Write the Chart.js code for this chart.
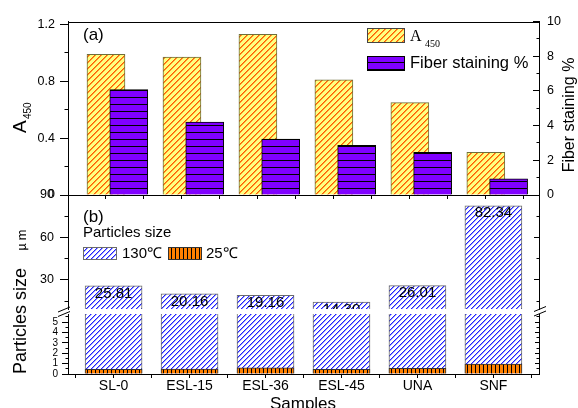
<!DOCTYPE html>
<html>
<head>
<meta charset="utf-8">
<script src="https://cdn.jsdelivr.net/npm/chart.js@4.4.0/dist/chart.umd.min.js"></script>
<style>
    html, body { margin: 0; padding: 0; background: #fff; overflow: hidden; }
    #wrap { position: relative; width: 578px; height: 408px; }
    #wrap canvas { position: absolute; left: 0; top: 0; }
</style>
</head>
<body>
<div id="wrap">
    <canvas id="chartTop" width="578" height="408"></canvas>
    <canvas id="chartUpper" width="578" height="408"></canvas>
    <canvas id="chartLower" width="578" height="408"></canvas>
</div>
<script>
// data
const samples = ['SL-0', 'ESL-15', 'ESL-36', 'ESL-45', 'UNA', 'SNF'];
const a450 = [0.99, 0.97, 1.13, 0.81, 0.65, 0.30];
const fiberStaining = [6.07, 4.21, 3.22, 2.87, 2.46, 0.93];
const size130 = [25.81, 20.16, 19.16, 14.30, 26.01, 82.34];
const size25 = [0.45, 0.48, 0.60, 0.45, 0.55, 0.96];

// tick values
const a450Ticks = [0, 0.4, 0.8, 1.2];
const a450Minor = [0.2, 0.6, 1.0];
const fiberTicks = [0, 2, 4, 6, 8, 10];
const fiberMinor = [1, 3, 5, 7, 9];
const upperTicks = [30, 60, 90];
const upperMinor = [15, 45, 75];
const lowerTicks = [0, 1, 2, 3, 4, 5];
const lowerMinor = [0.5, 1.5, 2.5, 3.5, 4.5, 5.5];
const topXTicks = [-0.1, 0.4, 0.9, 1.4, 1.9, 2.4, 2.9, 3.4, 3.9, 4.4, 4.9, 5.4];
const bottomXTicks = [-0.5, 0, 0.5, 1, 1.5, 2, 2.5, 3, 3.5, 4, 4.5, 5, 5.5];

const FONT = 'Arial, "Liberation Sans", sans-serif';
Chart.defaults.font.family = FONT;
Chart.defaults.color = '#000';
Chart.defaults.animation = false;

const ctxTop = document.getElementById('chartTop').getContext('2d');
const ctxUpper = document.getElementById('chartUpper').getContext('2d');
const ctxLower = document.getElementById('chartLower').getContext('2d');

function makePattern(ctx, w, h, bg, draw) {
    const c = document.createElement('canvas');
    c.width = w; c.height = h;
    const g = c.getContext('2d');
    g.fillStyle = bg;
    g.fillRect(0, 0, w, h);
    draw(g, w, h);
    return ctx.createPattern(c, 'repeat');
}

// pixel-stepped "/" lines, crisp so the colour survives
function diag(color, soft) {
    return (g, s) => {
        for (let k = 0; k < s; k++) {
            g.fillStyle = color;
            g.fillRect(s - 1 - k, k, 1, 1);
            if (soft) {
                g.fillStyle = soft;
                g.fillRect((s - k) % s, k, 1, 1);
            }
        }
    };
}

function patterns(ctx) {
    return {
        a450: makePattern(ctx, 6, 6, '#FFFF80', diag('#FF5A00', '#FF9B2A')),
        fiber: makePattern(ctx, 7, 7, '#8000FF', (g) => { g.fillStyle = '#000'; g.fillRect(0, 6, 7, 1); }),
        hot: makePattern(ctx, 5, 5, '#FFFFFF', diag('#2020FF', '#9a9aff')),
        cold: makePattern(ctx, 4, 4, '#FF8000', (g) => { g.fillStyle = '#000'; g.fillRect(3, 0, 1, 4); })
    };
}
const patTop = patterns(ctxTop);
const patUpper = patterns(ctxUpper);
const patLower = patterns(ctxLower);

const setTicks = values => s => { s.ticks = values.map(v => ({ value: v })); };
const border = { display: true, color: '#000', width: 1 };

function leftAxis(min, max, major, size, len, pad) {
    return {
        type: 'linear', position: 'left', min, max,
        afterBuildTicks: setTicks(major),
        afterFit: s => { s.width = 68; },
        ticks: { autoSkip: false, font: { size }, padding: pad, color: '#000', callback: v => String(v) },
        grid: { drawOnChartArea: false, tickLength: len, color: '#000' },
        border
    };
}

function rightAxis(min, max, major, showLabels, len) {
    return {
        type: 'linear', position: 'right', min, max,
        afterBuildTicks: setTicks(major),
        afterFit: s => { s.width = 39; },
        ticks: { autoSkip: false, display: showLabels, font: { size: 12.5 }, padding: 14, color: '#000', callback: v => String(v) },
        grid: { drawOnChartArea: false, tickLength: -len, color: '#000' },
        border
    };
}

function minorTicks(chart, id, values, len) {
    const s = chart.scales[id];
    const ctx = chart.ctx;
    const x0 = s.position === 'left' ? Math.round(s.right) + 0.5 : Math.round(s.left) + 0.5;
    ctx.save();
    ctx.strokeStyle = '#000';
    ctx.lineWidth = 1;
    ctx.beginPath();
    values.forEach(v => {
        const y = Math.round(s.getPixelForValue(v) - 0.5) + 0.5;
        ctx.moveTo(x0, y);
        ctx.lineTo(x0 - len, y);
    });
    ctx.stroke();
    ctx.restore();
}

function label(ctx, str, x, y, font, align, rot) {
    ctx.save();
    ctx.translate(x, y);
    if (rot) ctx.rotate(rot);
    ctx.font = font;
    ctx.fillStyle = '#000';
    ctx.textAlign = align || 'left';
    ctx.textBaseline = 'middle';
    ctx.fillText(str, 0, 0);
    ctx.restore();
}

function legendBox(ctx, x, y, w, h, fill, stroke) {
    ctx.save();
    ctx.fillStyle = fill;
    ctx.fillRect(x, y, w, h);
    ctx.strokeStyle = stroke;
    ctx.lineWidth = 1;
    ctx.strokeRect(x + 0.5, y + 0.5, w, h);
    ctx.restore();
}

const baseOptions = {
    responsive: false,
    devicePixelRatio: 1,
    animation: false,
    plugins: { legend: { display: false }, tooltip: { enabled: false } }
};

// ---------- panel (a) ----------
new Chart(ctxTop, {
    type: 'bar',
    data: {
        datasets: [
            {
                label: 'A450',
                data: samples.map((s, i) => ({ x: i - 0.1, y: a450[i] })),
                yAxisID: 'y',
                backgroundColor: patTop.a450,
                borderColor: '#6e6e3c',
                borderWidth: 1,
                barThickness: 38,
                grouped: false,
                clip: 0,
                order: 2
            },
            {
                label: 'Fiber staining %',
                data: samples.map((s, i) => ({ x: i + 0.2, y: fiberStaining[i] })),
                yAxisID: 'y1',
                backgroundColor: patTop.fiber,
                borderColor: '#000',
                borderWidth: 1,
                barThickness: 38,
                grouped: false,
                clip: 0,
                order: 1
            }
        ]
    },
    options: {
        ...baseOptions,
        layout: { padding: { top: 17, bottom: 207, left: 0, right: 0 } },
        scales: {
            x: {
                type: 'linear', min: -0.6, max: 5.6, offset: false,
                afterBuildTicks: setTicks(topXTicks),
                afterFit: s => { s.height = 6; },
                ticks: { display: false },
                grid: { drawOnChartArea: false, offset: false, tickLength: 4, color: '#000' },
                border
            },
            y: leftAxis(0, 1.22, a450Ticks, 12.5, 8, 5),
            y1: rightAxis(0, 10, fiberTicks, true, 6)
        }
    },
    plugins: [{
        id: 'panelA',
        afterDraw(chart) {
            const { ctx, chartArea: a } = chart;
            ctx.save();
            ctx.strokeStyle = '#000';
            ctx.lineWidth = 1;
            ctx.beginPath();
            ctx.moveTo(Math.round(a.left), Math.round(a.top) + 0.5);
            ctx.lineTo(Math.round(a.right) + 1, Math.round(a.top) + 0.5);
            ctx.stroke();
            ctx.restore();
            minorTicks(chart, 'y', a450Minor, 4);
            minorTicks(chart, 'y1', fiberMinor, 3);

            label(ctx, '(a)', 83, 35, '17px ' + FONT);

            // left title A450
            ctx.save();
            ctx.translate(26, 133);
            ctx.rotate(-Math.PI / 2);
            ctx.fillStyle = '#000';
            ctx.textBaseline = 'alphabetic';
            ctx.font = '19px ' + FONT;
            ctx.fillText('A', 0, 0);
            ctx.font = '10px ' + FONT;
            ctx.fillText('450', 14, 5);
            ctx.restore();

            // right title
            label(ctx, 'Fiber staining %', 570, 115, '16px ' + FONT, 'center', -Math.PI / 2);

            // legend
            legendBox(ctx, 367, 28, 37, 14, patTop.a450, '#444');
            legendBox(ctx, 367, 56, 37, 14, patTop.fiber, '#000');
            ctx.save();
            ctx.fillStyle = '#000';
            ctx.textBaseline = 'alphabetic';
            ctx.font = '16px "Liberation Serif", "Times New Roman", serif';
            ctx.fillText('A', 410, 41);
            ctx.font = '10px "Liberation Serif", "Times New Roman", serif';
            ctx.fillText('450', 425, 47);
            ctx.restore();
            label(ctx, 'Fiber staining %', 410, 63, '16.5px ' + FONT);
        }
    }]
});

// ---------- panel (b), upper segment ----------
new Chart(ctxUpper, {
    type: 'bar',
    data: {
        datasets: [{
            label: '130℃',
            data: samples.map((s, i) => ({ x: i, y: size130[i] })),
            backgroundColor: patUpper.hot,
            borderColor: '#6a6a6a',
            borderWidth: 1,
            barThickness: 57,
            grouped: false,
            clip: 0
        }]
    },
    options: {
        ...baseOptions,
        layout: { padding: { top: 195, bottom: 99, left: 0, right: 0 } },
        scales: {
            x: { type: 'linear', min: -0.6, max: 5.6, offset: false, display: false },
            y: leftAxis(9.5, 90, upperTicks, 12.5, 8, 6),
            y1: rightAxis(9.5, 90, upperTicks, false, 5)
        }
    },
    plugins: [{
        id: 'panelBUpper',
        afterDatasetsDraw(chart) {
            const { ctx, chartArea: a } = chart;
            const meta = chart.getDatasetMeta(0);
            const ys = chart.scales.y;
            ctx.save();
            ctx.beginPath();
            ctx.rect(a.left, a.top, a.right - a.left, a.bottom - a.top);
            ctx.clip();
            meta.data.forEach((bar, i) => {
                label(ctx, size130[i].toFixed(2), bar.x, ys.getPixelForValue(size130[i]) + 7.5, '15px ' + FONT, 'center');
            });
            ctx.restore();
        },
        afterDraw(chart) {
            const ctx = chart.ctx;
            minorTicks(chart, 'y', upperMinor, 4);
            minorTicks(chart, 'y1', upperMinor, 3);

            label(ctx, '(b)', 83, 217, '17px ' + FONT);
            label(ctx, 'Particles size', 83, 233, '15px ' + FONT);
            legendBox(ctx, 83, 247, 33, 12, patUpper.hot, '#6a6a6a');
            label(ctx, '130℃', 122, 253.5, '15px ' + FONT);
            legendBox(ctx, 168, 247, 33, 12, patUpper.cold, '#333');
            label(ctx, '25℃', 206, 253.5, '15px ' + FONT);

            // left title
            label(ctx, 'Particles size', 21, 321, '18px ' + FONT, 'center', -Math.PI / 2);
            label(ctx, 'μ m', 21.5, 240, '12px "Noto Sans CJK SC", "Liberation Serif", serif', 'center', -Math.PI / 2);
        }
    }]
});

// ---------- panel (b), lower segment ----------
new Chart(ctxLower, {
    type: 'bar',
    data: {
        datasets: [
            {
                label: '130℃',
                data: samples.map((s, i) => ({ x: i, y: size130[i] })),
                backgroundColor: patLower.hot,
                borderColor: '#6a6a6a',
                borderWidth: 1,
                barThickness: 57,
                grouped: false,
                clip: 0,
                order: 2
            },
            {
                label: '25℃',
                data: samples.map((s, i) => ({ x: i, y: size25[i] })),
                backgroundColor: patLower.cold,
                borderColor: '#333',
                borderWidth: 1,
                barThickness: 57,
                grouped: false,
                clip: 0,
                order: 1
            }
        ]
    },
    options: {
        ...baseOptions,
        layout: { padding: { top: 314, bottom: 0, left: 0, right: 0 } },
        scales: {
            x: {
                type: 'linear', min: -0.6, max: 5.6, offset: false,
                afterBuildTicks: setTicks(bottomXTicks),
                afterFit: s => { s.height = 34; },
                ticks: {
                    autoSkip: false, maxRotation: 0, minRotation: 0, padding: 0,
                    font: { size: 14 }, color: '#000',
                    callback: v => Number.isInteger(v) ? samples[v] : ''
                },
                grid: { drawOnChartArea: false, offset: false, tickLength: 4, color: '#000' },
                border
            },
            y: leftAxis(0, 5.77, lowerTicks, 10, 6, 4),
            y1: rightAxis(0, 5.77, lowerTicks, false, 4)
        }
    },
    plugins: [{
        id: 'panelBLower',
        afterDraw(chart) {
            const ctx = chart.ctx;
            minorTicks(chart, 'y', lowerMinor, 3);
            minorTicks(chart, 'y1', lowerMinor, 3);

            // axis break marks
            ctx.save();
            ctx.strokeStyle = '#000';
            ctx.lineWidth = 1;
            [[64, 309.5], [64, 314], [540, 309], [540, 313.5]].forEach(([x, y]) => {
                ctx.beginPath();
                ctx.moveTo(x - 6, y + 2.5);
                ctx.lineTo(x + 6, y - 2.5);
                ctx.stroke();
            });
            ctx.restore();

            label(ctx, 'Samples', 303, 404, '17px ' + FONT, 'center');
        }
    }]
});
</script>
</body>
</html>
